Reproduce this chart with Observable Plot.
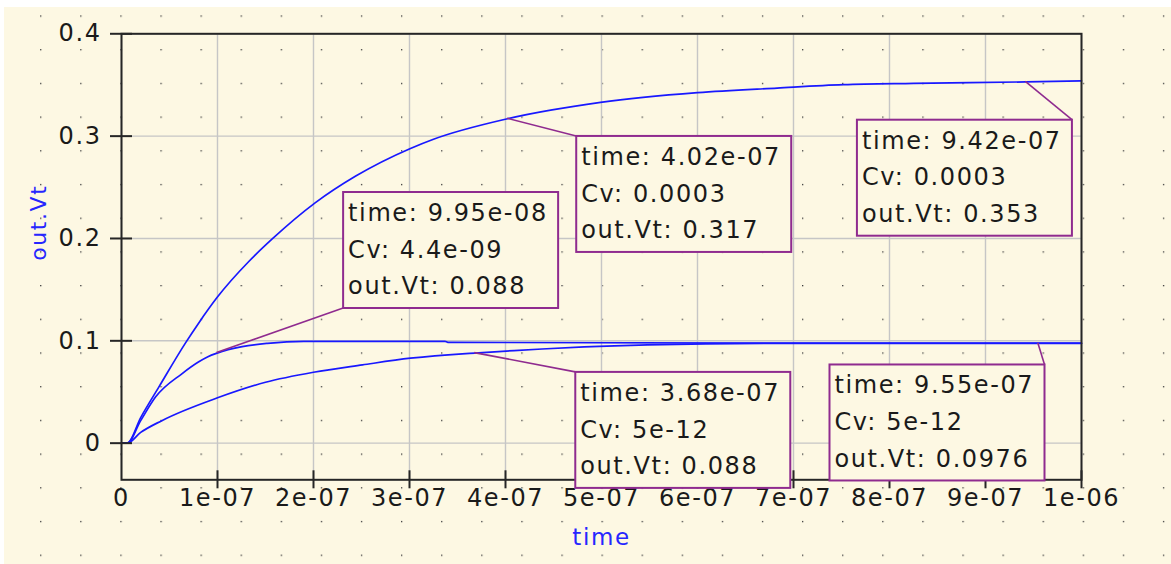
<!DOCTYPE html>
<html>
<head>
<meta charset="utf-8">
<script src="https://cdn.jsdelivr.net/npm/d3@7"></script>
<script src="https://cdn.jsdelivr.net/npm/@observablehq/plot@0.6"></script>
<style>
  html, body { margin: 0; padding: 0; background: #ffffff; }
  #chart { position: absolute; left: 4px; top: 7px; }
  #chart svg text { letter-spacing: 1.6px; }
</style>
</head>
<body>
<div id="chart"></div>
<script>
// ---- Data ----
const xTicks = [0, 1e-7, 2e-7, 3e-7, 4e-7, 5e-7, 6e-7, 7e-7, 8e-7, 9e-7, 1e-6];
const xTickLabels = ["0", "1e-07", "2e-07", "3e-07", "4e-07", "5e-07", "6e-07", "7e-07", "8e-07", "9e-07", "1e-06"];
const yTicks = [0, 0.1, 0.2, 0.3, 0.4];
const yTickLabels = ["0", "0.1", "0.2", "0.3", "0.4"];

// Cv = 0.0003
const topT = [0, 0.06e-7, 0.2e-7, 0.39e-7, 0.667e-7, 0.805e-7, 0.997e-7, 1.326e-7, 1.57e-7, 2.02e-7, 2.44e-7, 3.01e-7, 3.25e-7, 4.02e-7, 4.99e-7, 6.0e-7, 6.83e-7, 7.52e-7, 8.25e-7, 9.42e-7, 1e-6];
const topV = [0, 0, 0.025, 0.055, 0.098, 0.1175, 0.1425, 0.1775, 0.1995, 0.235, 0.261, 0.288, 0.297, 0.317, 0.333, 0.3425, 0.347, 0.3503, 0.3516, 0.353, 0.354];
// Cv = 4.4e-09
const midT = [0, 0.06e-7, 0.2e-7, 0.354e-7, 0.632e-7, 0.805e-7, 0.9e-7, 0.995e-7, 1.257e-7, 1.52e-7, 1.9e-7, 3.37e-7, 3.4e-7, 6.9e-7, 1e-6];
const midV = [0, 0, 0.022, 0.045, 0.068, 0.0795, 0.0845, 0.088, 0.0943, 0.0975, 0.0995, 0.0995, 0.0985, 0.0978, 0.0977];
// Cv = 5e-12
const botT = [0, 0.06e-7, 0.2e-7, 0.42e-7, 1.0e-7, 1.5e-7, 2.0e-7, 2.51e-7, 3.01e-7, 3.55e-7, 3.68e-7, 4.09e-7, 4.38e-7, 4.82e-7, 5.48e-7, 6.9e-7, 9.55e-7, 1e-6];
const botV = [0, 0, 0.0105, 0.022, 0.0443, 0.0595, 0.0693, 0.0765, 0.083, 0.0873, 0.088, 0.0905, 0.092, 0.094, 0.096, 0.0976, 0.0976, 0.0976];

// Markers (annotation boxes)
const annTime = [9.95e-8, 4.02e-7, 9.42e-7, 3.68e-7, 9.55e-7];
const annTimeLabel = ["9.95e-08", "4.02e-07", "9.42e-07", "3.68e-07", "9.55e-07"];
const annCv = ["4.4e-09", "0.0003", "0.0003", "5e-12", "5e-12"];
const annVt = [0.088, 0.317, 0.353, 0.088, 0.0976];
const annVtLabel = ["0.088", "0.317", "0.353", "0.088", "0.0976"];

// ---- Layout / style (not data) ----
const annLayout = [
  {dx: 126.6, dy: -160.6, corner: "bl"},
  {dx: 69.3, dy: 17.7, corner: "tl"},
  {dx: -168.4, dy: 38.3, corner: "tr"},
  {dx: 101, dy: 19.3, corner: "tl"},
  {dx: -208.3, dy: 21.7, corner: "tr"}
];
const boxW = 215, boxH = 116;
const cream = "#fdf8e3";
const purple = "#8f2b8f";
const blue = "#1818ff";
const yMin = -0.0358;

const series = [
  ...topT.map((t, i) => ({t, v: topV[i], s: "0.0003"})),
  ...midT.map((t, i) => ({t, v: midV[i], s: "4.4e-09"})),
  ...botT.map((t, i) => ({t, v: botV[i], s: "5e-12"}))
];

function dotGrid(index, scales, values, dimensions) {
  const g = d3.create("svg:g");
  const defs = g.append("defs");
  const p = defs.append("pattern").attr("id", "dotpat").attr("patternUnits", "userSpaceOnUse")
    .attr("x", 36.1).attr("y", 8.4).attr("width", 40.1).attr("height", 33.7);
  p.append("rect").attr("x", 0).attr("y", 0).attr("width", 1.3).attr("height", 1.3).attr("fill", "#3a3a3a");
  g.append("rect").attr("x", 0).attr("y", 0).attr("width", dimensions.width).attr("height", dimensions.height)
    .attr("fill", "url(#dotpat)");
  return g.node();
}

function annotations(index, scales) {
  const sx = scales.x, sy = scales.y;
  const g = d3.create("svg:g").attr("text-anchor", "start");
  annTime.forEach((t, i) => {
    const ax = sx(t), ay = sy(annVt[i]);
    const L = annLayout[i];
    const bx = ax + L.dx, by = ay + L.dy;
    const cx = bx + (L.corner[1] === "r" ? boxW : 0);
    const cy = by + (L.corner[0] === "b" ? boxH : 0);
    g.append("line").attr("x1", ax).attr("y1", ay).attr("x2", cx).attr("y2", cy)
      .attr("stroke", purple).attr("stroke-width", 1.6);
    g.append("rect").attr("x", bx).attr("y", by).attr("width", boxW).attr("height", boxH)
      .attr("fill", cream).attr("stroke", purple).attr("stroke-width", 2);
    const lines = ["time: " + annTimeLabel[i], "Cv: " + annCv[i], "out.Vt: " + annVtLabel[i]];
    lines.forEach((s, j) => {
      g.append("text").attr("x", bx + 5).attr("y", by + 29 + j * 36.7)
        .attr("text-anchor", "start")
        .attr("fill", "#1a1a1a").attr("font-family", "DejaVu Sans").attr("font-size", 24)
        .text(s);
    });
  });
  return g.node();
}

const chart = Plot.plot({
  width: 1167,
  height: 557,
  marginLeft: 117,
  marginRight: 90,
  marginTop: 26.3,
  marginBottom: 84.7,
  style: {background: cream, fontFamily: "DejaVu Sans", fontSize: "24px", color: "#1a1a1a", overflow: "visible"},
  x: {domain: [0, 1e-6], axis: null},
  y: {domain: [yMin, 0.4], axis: null},
  marks: [
    dotGrid,
    Plot.ruleX(xTicks, {stroke: "#c6c6c6", strokeWidth: 1.4}),
    Plot.ruleY(yTicks, {stroke: "#c6c6c6", strokeWidth: 1.4}),
    Plot.line(series, {x: "t", y: "v", z: "s", stroke: blue, strokeWidth: 1.7, curve: "monotone-x"}),
    Plot.frame({stroke: "#262626", strokeWidth: 2}),
    Plot.ruleX(xTicks.slice(1), {y1: yMin, y2: yMin, insetTop: -9, insetBottom: -9, stroke: "#262626", strokeWidth: 2}),
    Plot.ruleY(yTicks, {x1: 0, x2: 0, insetLeft: -11, insetRight: -11, stroke: "#262626", strokeWidth: 2}),
    Plot.text(xTicks, {x: d => d, y: yMin, text: (d, i) => xTickLabels[i], dy: 19, fontSize: 24, fill: "#1a1a1a"}),
    Plot.text(yTicks, {x: 0, y: d => d, text: (d, i) => yTickLabels[i], textAnchor: "end", dx: -20, fontSize: 24, fill: "#1a1a1a"}),
    Plot.text(["time"], {frameAnchor: "bottom", dy: 65, fontSize: 23, fill: "#2626ff"}),
    Plot.text(["out.Vt"], {frameAnchor: "left", rotate: -90, dx: -83, dy: 4, fontSize: 22, fill: "#2626ff"}),
    annotations
  ]
});
document.getElementById("chart").appendChild(chart);
</script>
</body>
</html>
